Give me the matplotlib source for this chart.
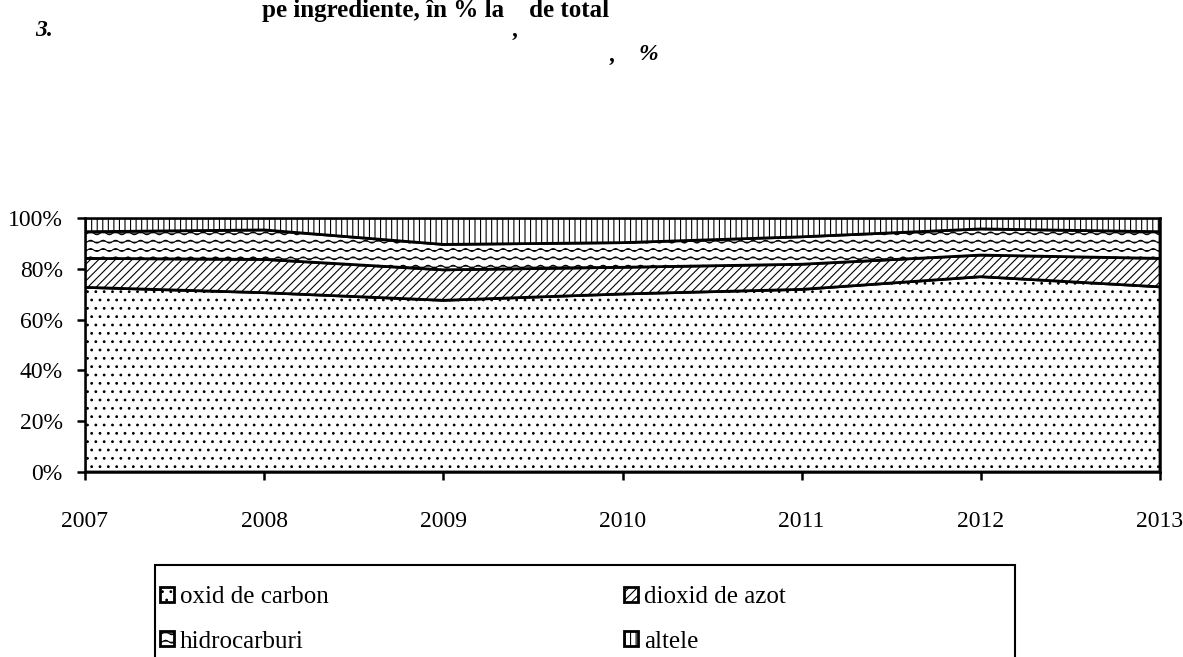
import warnings
import numpy as np
import matplotlib.pyplot as plt
import matplotlib.hatch as mhatch
from matplotlib.path import Path
from matplotlib.patches import Rectangle

# DATA (share of each pollutant, % of total)
years = [2007, 2008, 2009, 2010, 2011, 2012, 2013]
oxid_carbon = [72.7, 70.6, 67.6, 70.1, 71.9, 76.9, 72.9]
dioxid_azot = [11.4, 13.1, 12.0, 10.5, 9.9, 8.5, 11.2]
hidrocarburi = [10.5, 11.6, 10.0, 9.7, 10.8, 10.3, 10.5]
altele = [5.4, 4.7, 10.4, 9.7, 7.4, 4.3, 5.4]

labels = ['oxid de carbon', 'dioxid de azot', 'hidrocarburi', 'altele']
hatches = ['..', '////', '~~', '|||']
y_ticks = [0, 20, 40, 60, 80, 100]


class WaveHatch(mhatch.HatchPatternBase):
    """wavy horizontal hatch, used with '~'"""

    def __init__(self, hatch, density):
        self.num_lines = int(hatch.count('~') * density)
        self.num_pts = 65
        self.num_vertices = self.num_lines * self.num_pts

    def set_vertices_and_codes(self, vertices, codes):
        x = np.linspace(0, 1, self.num_pts)
        rows = np.linspace(0, 1, self.num_lines, endpoint=False)
        for i, r in enumerate(rows):
            sl = slice(i * self.num_pts, (i + 1) * self.num_pts)
            vertices[sl, 0] = x
            vertices[sl, 1] = r + 0.014 * np.sin(2 * np.pi * 8 * x)
            codes[sl] = Path.LINETO
            codes[i * self.num_pts] = Path.MOVETO


mhatch._hatch_types.append(WaveHatch)
warnings.filterwarnings('ignore')

plt.rcParams['font.family'] = ['Liberation Serif', 'DejaVu Serif']
plt.rcParams['hatch.linewidth'] = 0.8

W, H = 1183, 657
fig = plt.figure(figsize=(W / 100, H / 100), dpi=100)
ax = fig.add_axes([85 / W, 1 - 472 / H, (1160 - 85) / W, (472 - 218) / H])

polys = ax.stackplot(years, oxid_carbon, dioxid_azot, hidrocarburi, altele,
                     colors=['white'] * 4, edgecolor='black', linewidth=2.0,
                     labels=labels)
for p, h in zip(polys, hatches):
    p.set_hatch(h)

ax.set_xlim(years[0], years[-1])
ax.set_ylim(0, 100)
ax.set_xticks(years)
ax.set_xticklabels([str(y) for y in years])
ax.set_yticks(y_ticks)
ax.set_yticklabels(['{}%'.format(v) for v in y_ticks])
ax.tick_params(axis='x', length=6, width=1.8, pad=22, labelsize=17)
ax.tick_params(axis='y', length=6, width=1.8, pad=10, labelsize=17)
for s in ax.spines.values():
    s.set_linewidth(1.8)

# title fragments
fig.text(436 / W, 1 - 10 / H, 'pe ingrediente, în % la    de total', ha='center',
         va='center', fontsize=18, fontweight='bold')
fig.text(35 / W, 1 - 30 / H, '3.', ha='left', va='center', fontsize=17,
         fontweight='bold', fontstyle='italic')
fig.text(515 / W, 1 - 30 / H, ',', ha='center', va='center', fontsize=17,
         fontweight='bold', fontstyle='italic')
fig.text(612 / W, 1 - 55 / H, ',', ha='center', va='center', fontsize=17,
         fontweight='bold', fontstyle='italic')
fig.text(648 / W, 1 - 55 / H, '%', ha='center', va='center', fontsize=17,
         fontweight='bold', fontstyle='italic')

# legend box (bottom edge runs off the picture)
fig.patches.append(Rectangle((155 / W, 1 - 700 / H), (1015 - 155) / W, (700 - 565) / H,
                             transform=fig.transFigure, fill=False,
                             edgecolor='black', linewidth=1.5, clip_on=False))
order = [0, 2, 1, 3]  # row-wise filling
fig.legend(handles=[polys[i] for i in order], labels=[labels[i] for i in order],
           ncol=2, frameon=False, loc='upper left',
           bbox_to_anchor=(160 / W, 1 - 586 / H),
           fontsize=18, handlelength=0.55, handleheight=0.55, handletextpad=0.25,
           columnspacing=11.8, labelspacing=0.9, borderpad=0, borderaxespad=0)

fig.savefig('out.png', dpi=100)
